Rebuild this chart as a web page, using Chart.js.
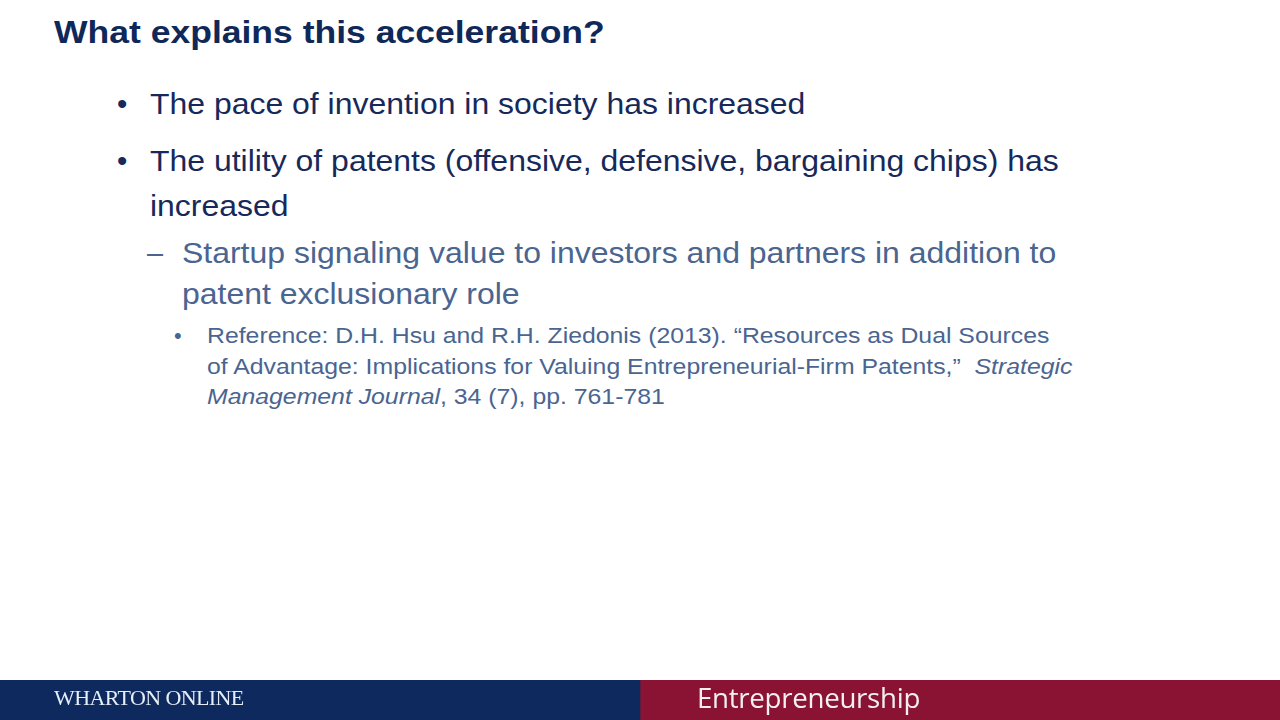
<!DOCTYPE html>
<html>
<head>
<meta charset="utf-8">
<script src="https://cdn.jsdelivr.net/npm/chart.js@4/dist/chart.umd.min.js"></script>
<style>
  html,body{margin:0;padding:0;background:#fff;}
  #slide{position:relative;width:1280px;height:720px;overflow:hidden;font-family:"Liberation Sans",Arial,sans-serif;}
  .t{position:absolute;white-space:nowrap;transform-origin:0 0;}
  .title{left:54px;top:14px;font-size:32px;font-weight:bold;color:#0F2859;transform:scaleX(1.11);}
  .l1{font-size:29.5px;color:#17295A;}
  .l2{font-size:28.8px;color:#4A6590;}
  .l3{font-size:21.8px;color:#4A6590;}
  .s1{transform:scaleX(1.083);}
  .s2{transform:scaleX(1.11);}
  .s3{transform:scaleX(1.138);}
  #footer{position:absolute;left:0;top:680px;width:1280px;height:40px;}
  .ft1{left:54px;top:685px;font-family:"Liberation Serif","Times New Roman",serif;font-size:22px;color:#E6EEF8;letter-spacing:-0.6px;}
  .ft2{left:697px;top:678px;font-family:"Open Sans","Noto Sans",sans-serif;font-size:27.7px;color:#F4F0F2;letter-spacing:-0.3px;}
</style>
</head>
<body>
<div id="slide">
  <div class="t title">What explains this acceleration?</div>

  <div class="t l1" style="left:117px;top:87px;">•</div>
  <div class="t l1 s1" style="left:150px;top:87px;">The pace of invention in society has increased</div>

  <div class="t l1" style="left:117px;top:144.3px;">•</div>
  <div class="t l1 s1" style="left:150px;top:144.3px;">The utility of patents (offensive, defensive, bargaining chips) has</div>
  <div class="t l1 s1" style="left:150px;top:189.3px;">increased</div>

  <div class="t l2" style="left:147px;top:237.2px;">–</div>
  <div class="t l2 s2" style="left:182px;top:237.2px;">Startup signaling value to investors and partners in addition to</div>
  <div class="t l2 s2" style="left:182px;top:277.9px;">patent exclusionary role</div>

  <div class="t l3" style="left:174px;top:322.6px;">•</div>
  <div class="t l3 s3" style="left:207px;top:322.6px;">Reference: D.H. Hsu and R.H. Ziedonis (2013). “Resources as Dual Sources</div>
  <div class="t l3 s3" style="left:207px;top:353.6px;">of Advantage: Implications for Valuing Entrepreneurial-Firm Patents,”&nbsp; <i>Strategic</i></div>
  <div class="t l3 s3" style="left:207px;top:384.3px;"><i>Management Journal</i>, 34 (7), pp. 761-781</div>

  <div id="footer"><canvas id="fc" width="1280" height="40"></canvas></div>
  <div class="t ft1">WHARTON ONLINE</div>
  <div class="t ft2">Entrepreneurship</div>
</div>
<script>
const footerCategories = ["footer"];
const footerSegments = ["WHARTON ONLINE", "Entrepreneurship"];
const footerValues = [[1], [1]];
const footerColors = ["#0E295E", "#8A1233"];

new Chart(document.getElementById('fc'), {
  type: 'bar',
  data: {
    labels: footerCategories,
    datasets: footerSegments.map((s, i) => ({
      label: s,
      data: footerValues[i],
      backgroundColor: footerColors[i],
      borderWidth: 0,
      barPercentage: 1,
      categoryPercentage: 1
    }))
  },
  options: {
    indexAxis: 'y',
    responsive: false,
    animation: false,
    layout: { padding: 0 },
    plugins: { legend: { display: false }, tooltip: { enabled: false } },
    scales: {
      x: { stacked: true, display: false, min: 0, max: 2 },
      y: { stacked: true, display: false }
    }
  }
});
</script>
</body>
</html>
